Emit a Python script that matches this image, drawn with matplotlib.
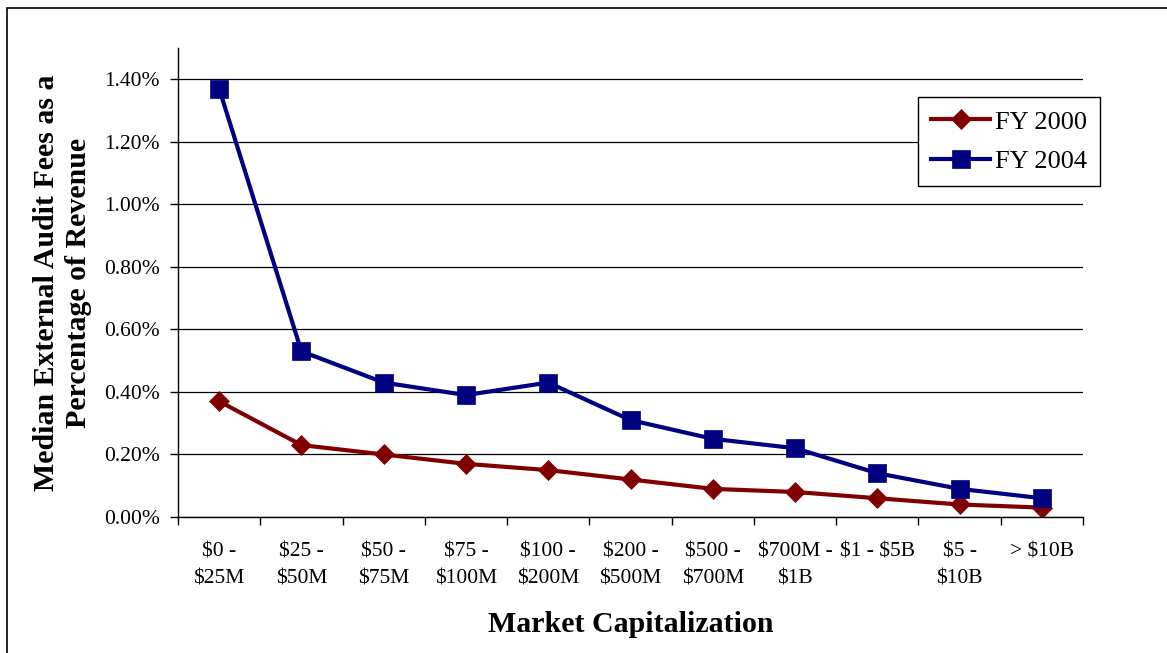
import matplotlib
matplotlib.use('Agg')
import matplotlib.pyplot as plt
from matplotlib.patches import Rectangle
from matplotlib.ticker import FuncFormatter, FixedLocator
import numpy as np

# data (percent of revenue)
categories = ['\\$0 -\n\\$25M', '\\$25 -\n\\$50M', '\\$50 -\n\\$75M', '\\$75 -\n\\$100M',
              '\\$100 -\n\\$200M', '\\$200 -\n\\$500M', '\\$500 -\n\\$700M',
              '\\$700M -\n\\$1B', '\\$1 - \\$5B', '\\$5 -\n\\$10B', '> \\$10B']
fy2000 = [0.37, 0.23, 0.20, 0.17, 0.15, 0.12, 0.09, 0.08, 0.06, 0.04, 0.03]
fy2004 = [1.37, 0.53, 0.43, 0.39, 0.43, 0.31, 0.25, 0.22, 0.14, 0.09, 0.06]
yticks = [0.0, 0.2, 0.4, 0.6, 0.8, 1.0, 1.2, 1.4]

plt.rcParams['font.family'] = ['Liberation Serif', 'DejaVu Serif']

W, H = 1167, 653
fig = plt.figure(figsize=(W / 100, H / 100), dpi=100)
ax = fig.add_axes([178 / W, 1 - 517 / H, (1083 - 178) / W, (517 - 48) / H])

x = np.arange(len(categories))
ax.plot(x, fy2000, '-D', color='#800000', lw=3, ms=10.5, mew=0.5, label='FY 2000')
ax.plot(x, fy2004, '-s', color='#000080', lw=3, ms=12.5, mew=0.5, label='FY 2004')

ax.set_xlim(-0.5, len(categories) - 0.5)
ax.set_ylim(0, 1.5)

# y axis
ax.set_yticks(yticks)
ax.yaxis.set_major_formatter(FuncFormatter(lambda v, p: '%.2f%%' % v))
ax.grid(axis='y', color='black', lw=0.9)
ax.set_axisbelow(True)

# x axis: tick marks at boundaries, labels at centres
ax.xaxis.set_major_locator(FixedLocator(np.arange(-0.5, len(categories), 1.0)))
ax.xaxis.set_major_formatter(FuncFormatter(lambda v, p: ''))
ax.xaxis.set_minor_locator(FixedLocator(x))
ax.set_xticklabels(categories, minor=True, linespacing=1.6)
ax.tick_params(axis='x', which='minor', length=0, pad=18, labelsize=15.5)
ax.tick_params(axis='x', which='major', length=6, width=1, direction='out')
ax.tick_params(axis='y', length=6, width=1, direction='out', pad=7, labelsize=15.5)

for s in ['top', 'right']:
    ax.spines[s].set_visible(False)
for s in ['left', 'bottom']:
    ax.spines[s].set_linewidth(1)

ax.set_xlabel('Market Capitalization', fontsize=21.5, fontweight='bold', labelpad=16)
ax.set_ylabel('Median External Audit Fees as a\nPercentage of Revenue',
              fontsize=21.5, fontweight='bold', labelpad=9, linespacing=1.2)

leg = ax.legend(loc='upper right', bbox_to_anchor=(1100 / W, 1 - 97 / H),
                bbox_transform=fig.transFigure, fontsize=19, frameon=True,
                fancybox=False, edgecolor='black', framealpha=1,
                handlelength=2.2, handletextpad=0.2, borderpad=0.5,
                labelspacing=0.6, borderaxespad=0)
leg.get_frame().set_linewidth(1)

# outer chart border
fig.patches.append(Rectangle((7 / W, -0.1), 2, 1.1 - 8 / H, transform=fig.transFigure,
                             fill=False, edgecolor='black', lw=1.2))

fig.savefig('out.png', dpi=100)
